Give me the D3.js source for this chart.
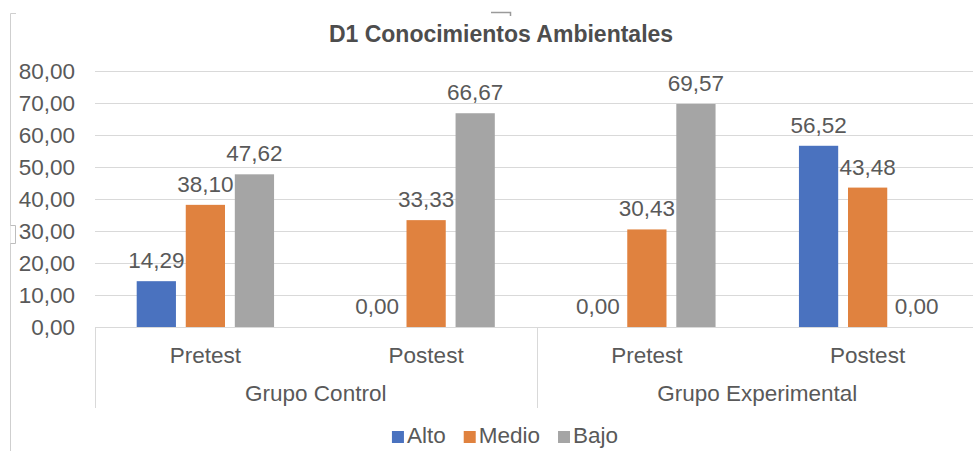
<!DOCTYPE html>
<html>
<head>
<meta charset="utf-8">
<script src="https://cdn.jsdelivr.net/npm/d3@7"></script>
<style>
  body { margin: 0; background: #fff; }
  svg { display: block; font-family: "Liberation Sans", Arial, sans-serif; }
  .tick-label, .cat-label, .val-label, .legend-text { fill: #595959; font-size: 22.5px; }
  .title { fill: #4d4d4d; font-size: 23px; font-weight: bold; }
</style>
</head>
<body>
<div class="chart-container"></div>
<script>
/********** the Data **********/
const groups = ["Grupo Control", "Grupo Experimental"];
const phases = ["Pretest", "Postest"];
const seriesNames = ["Alto", "Medio", "Bajo"];
// one value per (group, phase) in reading order
const alto  = [14.29, 0.00, 0.00, 56.52];
const medio = [38.10, 33.33, 30.43, 43.48];
const bajo  = [47.62, 66.67, 69.57, 0.00];
const yTicks = [0, 10, 20, 30, 40, 50, 60, 70, 80];
const colors = ["#4A72BF", "#E0823F", "#A5A5A5"];

/***** build rows for drawing *****/
let seriesValues = [alto, medio, bajo];
let rows = [];
groups.forEach((g, gi) => {
  phases.forEach((p, pi) => {
    seriesNames.forEach((s, si) => {
      rows.push({group: g, phase: p, series: s, value: seriesValues[si][gi * phases.length + pi]});
    });
  });
});

/***** Chart dimensions *****/
let width = 973, height = 451;
let plot = {left: 95, right: 978, top: 70.5, bottom: 327};

let fmt = d3.formatLocale({decimal: ",", thousands: ".", grouping: [3], currency: ["", ""]}).format(".2f");

/***** scales *****/
let x0 = d3.scaleBand().domain(groups).range([plot.left, plot.right]);
let x1 = d3.scaleBand().domain(phases).range([0, x0.bandwidth()]);
let x2 = d3.scaleBand().domain(seriesNames).range([0, x1.bandwidth()])
           .paddingInner(0.2).paddingOuter(0.85);
let y = d3.scaleLinear().domain([0, 80]).range([plot.bottom, plot.top]);
let color = d3.scaleOrdinal().domain(seriesNames).range(colors);

let svg = d3.select(".chart-container").append("svg")
  .attr("width", width).attr("height", height);

// frame handles (left edge of the selected chart box)
svg.append("path")
  .attr("d", "M10.5,451 V13.5 H16")
  .attr("fill", "none").attr("stroke", "#cfcfcf");
svg.append("path")
  .attr("d", "M10.5,225.5 H15.5 V243.5 H10.5")
  .attr("fill", "#fff").attr("stroke", "#bdbdbd");
svg.append("path")
  .attr("d", "M491,12.5 H510.5 V16")
  .attr("fill", "none").attr("stroke", "#9a9a9a").attr("stroke-width", 1.5);

/* title */
svg.append("text")
  .attr("class", "title")
  .attr("x", 501).attr("y", 42)
  .attr("text-anchor", "middle")
  .text("D1 Conocimientos Ambientales");

/* gridlines */
svg.append("g").attr("class", "grid")
  .selectAll("line").data(yTicks).enter().append("line")
    .attr("x1", plot.left).attr("x2", plot.right)
    .attr("y1", d => Math.round(y(d)) + 0.5).attr("y2", d => Math.round(y(d)) + 0.5)
    .attr("stroke", "#d9d9d9").attr("stroke-width", 1);

/* y axis labels */
svg.append("g").selectAll("text").data(yTicks).enter().append("text")
  .attr("class", "tick-label")
  .attr("x", 75).attr("y", d => y(d))
  .attr("dy", "0.36em")
  .attr("text-anchor", "end")
  .text(d => fmt(d));

/* bars */
let barX = d => x0(d.group) + x1(d.phase) + x2(d.series);
svg.append("g").selectAll("rect").data(rows).enter().append("rect")
  .attr("x", barX)
  .attr("width", x2.bandwidth())
  .attr("y", d => y(d.value))
  .attr("height", d => y(0) - y(d.value))
  .attr("fill", d => color(d.series));

/* value labels */
svg.append("g").selectAll("text").data(rows).enter().append("text")
  .attr("class", "val-label")
  .attr("x", d => barX(d) + x2.bandwidth() / 2)
  .attr("y", d => y(d.value) - 13)
  .attr("text-anchor", "middle")
  .text(d => fmt(d.value));

/* category axis: vertical dividers between groups */
let dividers = groups.map(g => x0(g)).concat([plot.right]);
svg.append("g").selectAll("line").data(dividers).enter().append("line")
  .attr("x1", d => Math.round(d) + 0.5).attr("x2", d => Math.round(d) + 0.5)
  .attr("y1", plot.bottom).attr("y2", 408)
  .attr("stroke", "#d9d9d9");

// phase labels
let phaseRows = [];
groups.forEach(g => phases.forEach(p => phaseRows.push({group: g, phase: p})));
svg.append("g").selectAll("text").data(phaseRows).enter().append("text")
  .attr("class", "cat-label")
  .attr("x", d => x0(d.group) + x1(d.phase) + x1.bandwidth() / 2)
  .attr("y", 363)
  .attr("text-anchor", "middle")
  .text(d => d.phase);

// group labels
svg.append("g").selectAll("text").data(groups).enter().append("text")
  .attr("class", "cat-label")
  .attr("x", d => x0(d) + x0.bandwidth() / 2)
  .attr("y", 401)
  .attr("text-anchor", "middle")
  .text(d => d);

/* legend */
let legend = svg.append("g");
let items = legend.selectAll("g").data(seriesNames).enter().append("g");
items.append("rect")
  .attr("width", 12).attr("height", 12)
  .attr("y", 431)
  .attr("fill", d => color(d));
items.append("text")
  .attr("class", "legend-text")
  .attr("x", 15).attr("y", 443)
  .text(d => d);

// place legend items side by side, centered
let widths = [];
items.each(function () {
  widths.push(15 + d3.select(this).select("text").node().getComputedTextLength());
});
let gap = 18;
let total = d3.sum(widths) + gap * (widths.length - 1);
let cursor = 505 - total / 2;
items.attr("transform", (d, i) => {
  let t = `translate(${cursor}, 0)`;
  cursor += widths[i] + gap;
  return t;
});
</script>
</body>
</html>
